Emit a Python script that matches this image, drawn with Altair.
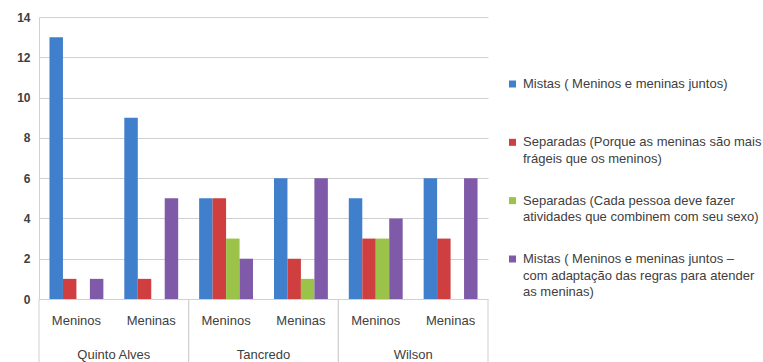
import altair as alt
import pandas as pd

# ---- data ----
schools = ["Quinto Alves", "Tancredo", "Wilson"]
genders = ["Meninos", "Meninas"]
series = [
    "Mistas ( Meninos e meninas juntos)",
    "Separadas (Porque as meninas são mais frágeis que os meninos)",
    "Separadas (Cada pessoa deve fazer atividades que combinem com seu sexo)",
    "Mistas ( Meninos e meninas juntos – com adaptação das regras para atender as meninas)",
]
legend_labels = [
    "Mistas ( Meninos e meninas juntos)",
    "Separadas (Porque as meninas são mais\nfrágeis que os meninos)",
    "Separadas (Cada pessoa deve fazer\natividades que combinem com seu sexo)",
    "Mistas ( Meninos e meninas juntos –\ncom adaptação das regras para atender\nas meninas)",
]
# order: QA Meninos, QA Meninas, Tancredo Meninos, Tancredo Meninas, Wilson Meninos, Wilson Meninas
mistas = [13, 9, 5, 6, 5, 6]
separadas_frageis = [1, 1, 5, 2, 3, 3]
separadas_sexo = [0, 0, 3, 1, 3, 0]
mistas_adaptacao = [1, 5, 2, 6, 4, 6]
colors = ["#3F7FCC", "#CF3F3F", "#9BC34A", "#7E5AA8"]

# ---- build tables ----
cats = [(s, g) for s in schools for g in genders]
cat_keys = [f"{s}|{g}" for s, g in cats]
rows = []
for name, vals in zip(series, [mistas, separadas_frageis, separadas_sexo, mistas_adaptacao]):
    for key, (s, g), v in zip(cat_keys, cats, vals):
        rows.append({"cat": key, "school": s, "gender": g, "series": name, "value": v})
df = pd.DataFrame(rows)
sub_df = pd.DataFrame({"cat": cat_keys, "gender": [g for _, g in cats]})
grp_df = pd.DataFrame({"school": schools})
leg_df = pd.DataFrame({"series": series, "label": legend_labels})

W, H = 449, 282
FONT = "Liberation Sans"
TXT = "#404040"
GRID = "#D0D0D0"

xscale = alt.Scale(domain=cat_keys, paddingInner=0.28, paddingOuter=0.14)
gscale = alt.Scale(domain=schools, paddingInner=0, paddingOuter=0)
cscale = alt.Scale(domain=series, range=colors)
lscale = alt.Scale(type="point", domain=series, range=[67, 242], padding=0)

bars = alt.Chart(df).mark_bar().encode(
    x=alt.X("cat:N", scale=xscale, axis=None),
    xOffset=alt.XOffset("series:N", scale=alt.Scale(domain=series, paddingInner=0, paddingOuter=0)),
    y=alt.Y(
        "value:Q",
        scale=alt.Scale(domain=[0, 14], nice=False),
        axis=alt.Axis(
            values=list(range(0, 15, 2)), grid=True, gridColor=GRID, domainColor=GRID,
            ticks=False, title=None, labelFont=FONT, labelFontSize=12,
            labelFontWeight="bold", labelColor=TXT, labelPadding=9,
        ),
    ),
    color=alt.Color("series:N", scale=cscale, legend=None),
)

sub = alt.Chart(sub_df).mark_text(font=FONT, fontSize=13, color=TXT, baseline="middle").encode(
    x=alt.X("cat:N", scale=xscale, axis=None),
    y=alt.value(H + 22),
    text="gender:N",
)

grp = alt.Chart(grp_df).mark_text(font=FONT, fontSize=13, color=TXT, baseline="middle").encode(
    x=alt.X("school:N", scale=gscale, axis=None),
    y=alt.value(H + 56),
    text="school:N",
)

sep_l = alt.Chart(grp_df).mark_rule(color=GRID, strokeWidth=1).encode(
    x=alt.X("school:N", scale=gscale, axis=None, bandPosition=0),
    y=alt.value(H),
    y2=alt.value(H + 63),
)
sep_r = alt.Chart(grp_df).mark_rule(color=GRID, strokeWidth=1).encode(
    x=alt.X("school:N", scale=gscale, axis=None, bandPosition=1),
    y=alt.value(H),
    y2=alt.value(H + 63),
)

leg_sq = alt.Chart(leg_df).mark_square(size=49, filled=True, opacity=1).encode(
    x=alt.value(W + 24.5),
    y=alt.Y("series:N", scale=lscale, axis=None),
    color=alt.Color("series:N", scale=cscale, legend=None),
)
leg_tx = alt.Chart(leg_df).mark_text(
    font=FONT, fontSize=13, color=TXT, align="left", baseline="alphabetic",
    dy=4, lineBreak="\n", lineHeight=16.5,
).encode(
    x=alt.value(W + 35),
    y=alt.Y("series:N", scale=lscale, axis=None),
    text="label:N",
)

chart = (
    alt.layer(bars, sep_l, sep_r, sub, grp, leg_sq, leg_tx)
    .resolve_scale(x="independent", y="independent")
    .properties(
        width=W, height=H,
        autosize=alt.AutoSizeParams(type="none"),
        padding={"left": 39, "top": 17, "right": 275, "bottom": 63},
        background="white",
    )
    .configure_view(stroke=None)
)

chart.save("out.html", embed_options={"renderer": "svg", "actions": False})
